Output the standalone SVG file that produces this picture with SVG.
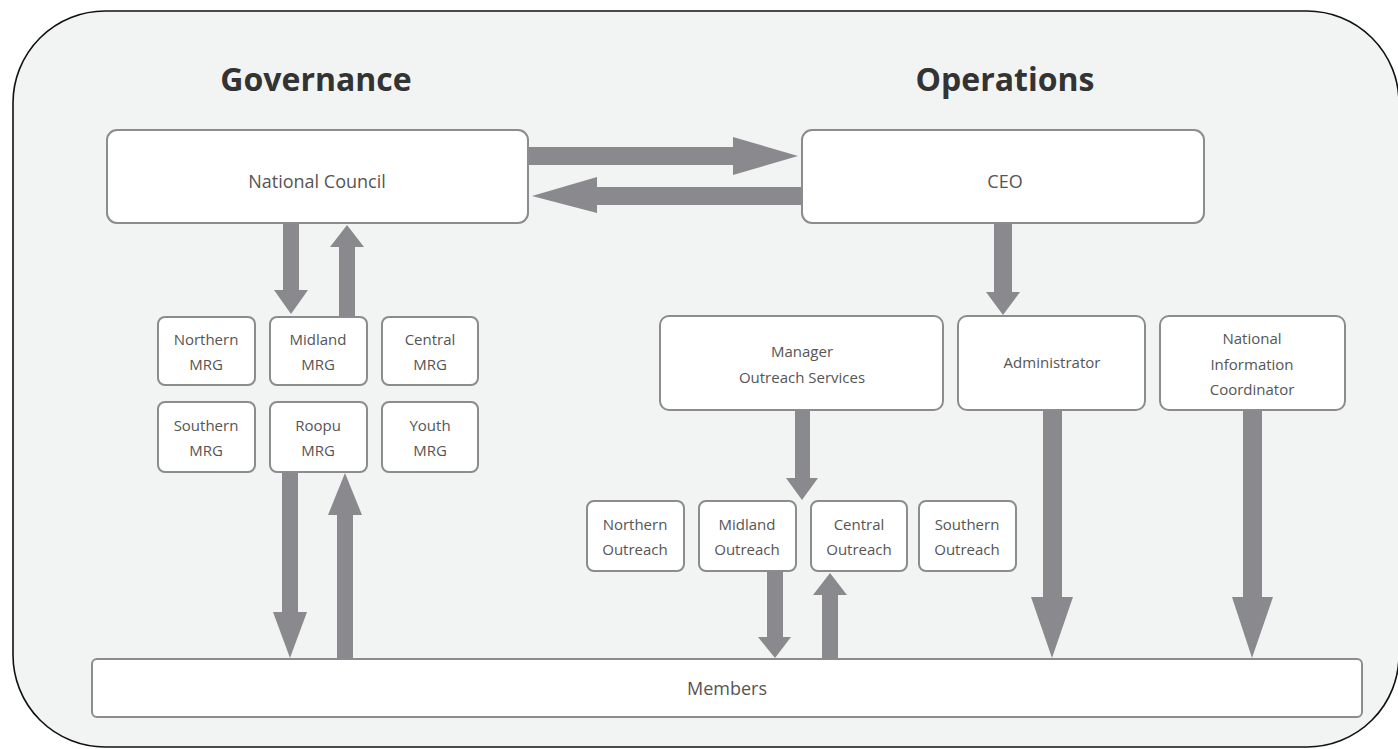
<svg xmlns="http://www.w3.org/2000/svg" width="1398" height="749" viewBox="0 0 1398 749">
  <style>
    .frame { fill: #f2f3f3; stroke: #111; stroke-width: 1.6; }
    .box { fill: #ffffff; stroke: #8c8c8e; stroke-width: 2; }
    .title { font-family: "Open Sans", "Liberation Sans", sans-serif; font-weight: bold; font-size: 32px; fill: #333333; text-anchor: middle; }
    .lbl { font-family: "Open Sans", "Liberation Sans", sans-serif; font-size: 18px; fill: #555555; text-anchor: middle; }
    .sm { font-family: "Open Sans", "Liberation Sans", sans-serif; font-size: 15px; fill: #555555; text-anchor: middle; }
    .arrow { fill: #8a8a8e; stroke: none; }
  </style>

  <!-- outer rounded frame -->
  <rect class="frame" x="13" y="11" width="1386" height="736" rx="92" ry="92"/>

  <text class="title" x="316" y="91">Governance</text>
  <text class="title" x="1005" y="91">Operations</text>

  <!-- connectors: thick block arrows -->
  <g id="connectors">
    <!-- National Council -> CEO -->
    <polygon class="arrow" points="528,147 733,147 733,137 798,156 733,175 733,165 528,165"/>
    <!-- CEO -> National Council -->
    <polygon class="arrow" points="802,187 597,187 597,177 532,196 597,213 597,205 802,205"/>
    <!-- National Council -> Midland MRG -->
    <polygon class="arrow" points="283,223 299,223 299,290 308,290 291,314 274,290 283,290"/>
    <!-- Midland MRG -> National Council -->
    <polygon class="arrow" points="339,316 355,316 355,247 364,247 347,225 330,247 339,247"/>
    <!-- Roopu MRG -> Members -->
    <polygon class="arrow" points="282,472 298,472 298,612 307,612 290,658 273,612 282,612"/>
    <!-- Members -> Roopu MRG -->
    <polygon class="arrow" points="337,659 353,659 353,515 362,515 345,473 328,515 337,515"/>
    <!-- CEO -> Administrator -->
    <polygon class="arrow" points="994,223 1012,223 1012,292 1020,292 1003,315 986,292 994,292"/>
    <!-- Manager Outreach Services -> outreach row -->
    <polygon class="arrow" points="795,410 810,410 810,478 818,478 802,500 786,478 795,478"/>
    <!-- Midland Outreach -> Members -->
    <polygon class="arrow" points="767,571 783,571 783,637 791,637 775,658 758,637 767,637"/>
    <!-- Members -> Central Outreach -->
    <polygon class="arrow" points="822,659 838,659 838,595 847,595 830,573 813,595 822,595"/>
    <!-- Administrator -> Members -->
    <polygon class="arrow" points="1043,410 1062,410 1062,597 1073,597 1052,658 1031,597 1043,597"/>
    <!-- National Information Coordinator -> Members -->
    <polygon class="arrow" points="1243,410 1262,410 1262,597 1273,597 1252,658 1232,597 1243,597"/>
  </g>

  <!-- Governance side -->
  <g id="national-council">
    <rect class="box" x="107" y="130" width="421" height="93" rx="10"/>
    <text class="lbl" x="317" y="188">National Council</text>
  </g>
  <g id="northern-mrg">
    <rect class="box" x="158" y="317" width="97" height="68" rx="7"/>
    <text class="sm" x="206" y="345">Northern</text>
    <text class="sm" x="206" y="370">MRG</text>
  </g>
  <g id="midland-mrg">
    <rect class="box" x="270" y="317" width="97" height="68" rx="7"/>
    <text class="sm" x="318" y="345">Midland</text>
    <text class="sm" x="318" y="370">MRG</text>
  </g>
  <g id="central-mrg">
    <rect class="box" x="382" y="317" width="96" height="68" rx="7"/>
    <text class="sm" x="430" y="345">Central</text>
    <text class="sm" x="430" y="370">MRG</text>
  </g>
  <g id="southern-mrg">
    <rect class="box" x="158" y="402" width="97" height="70" rx="7"/>
    <text class="sm" x="206" y="431">Southern</text>
    <text class="sm" x="206" y="456">MRG</text>
  </g>
  <g id="roopu-mrg">
    <rect class="box" x="270" y="402" width="97" height="70" rx="7"/>
    <text class="sm" x="318" y="431">Roopu</text>
    <text class="sm" x="318" y="456">MRG</text>
  </g>
  <g id="youth-mrg">
    <rect class="box" x="382" y="402" width="96" height="70" rx="7"/>
    <text class="sm" x="430" y="431">Youth</text>
    <text class="sm" x="430" y="456">MRG</text>
  </g>

  <!-- Operations side -->
  <g id="ceo">
    <rect class="box" x="802" y="130" width="402" height="93" rx="10"/>
    <text class="lbl" x="1005" y="188">CEO</text>
  </g>
  <g id="manager-outreach">
    <rect class="box" x="660" y="316" width="283" height="94" rx="9"/>
    <text class="sm" x="802" y="357">Manager</text>
    <text class="sm" x="802" y="383">Outreach Services</text>
  </g>
  <g id="administrator">
    <rect class="box" x="958" y="316" width="187" height="94" rx="9"/>
    <text class="sm" x="1052" y="368">Administrator</text>
  </g>
  <g id="national-information-coordinator">
    <rect class="box" x="1160" y="316" width="185" height="94" rx="9"/>
    <text class="sm" x="1252" y="344">National</text>
    <text class="sm" x="1252" y="370">Information</text>
    <text class="sm" x="1252" y="395">Coordinator</text>
  </g>
  <g id="northern-outreach">
    <rect class="box" x="587" y="501" width="97" height="70" rx="7"/>
    <text class="sm" x="635" y="530">Northern</text>
    <text class="sm" x="635" y="555">Outreach</text>
  </g>
  <g id="midland-outreach">
    <rect class="box" x="699" y="501" width="97" height="70" rx="7"/>
    <text class="sm" x="747" y="530">Midland</text>
    <text class="sm" x="747" y="555">Outreach</text>
  </g>
  <g id="central-outreach">
    <rect class="box" x="811" y="501" width="96" height="70" rx="7"/>
    <text class="sm" x="859" y="530">Central</text>
    <text class="sm" x="859" y="555">Outreach</text>
  </g>
  <g id="southern-outreach">
    <rect class="box" x="919" y="501" width="97" height="70" rx="7"/>
    <text class="sm" x="967" y="530">Southern</text>
    <text class="sm" x="967" y="555">Outreach</text>
  </g>

  <!-- shared base -->
  <g id="members">
    <rect class="box" x="92" y="659" width="1270" height="58" rx="5"/>
    <text class="lbl" x="727" y="695">Members</text>
  </g>
</svg>
